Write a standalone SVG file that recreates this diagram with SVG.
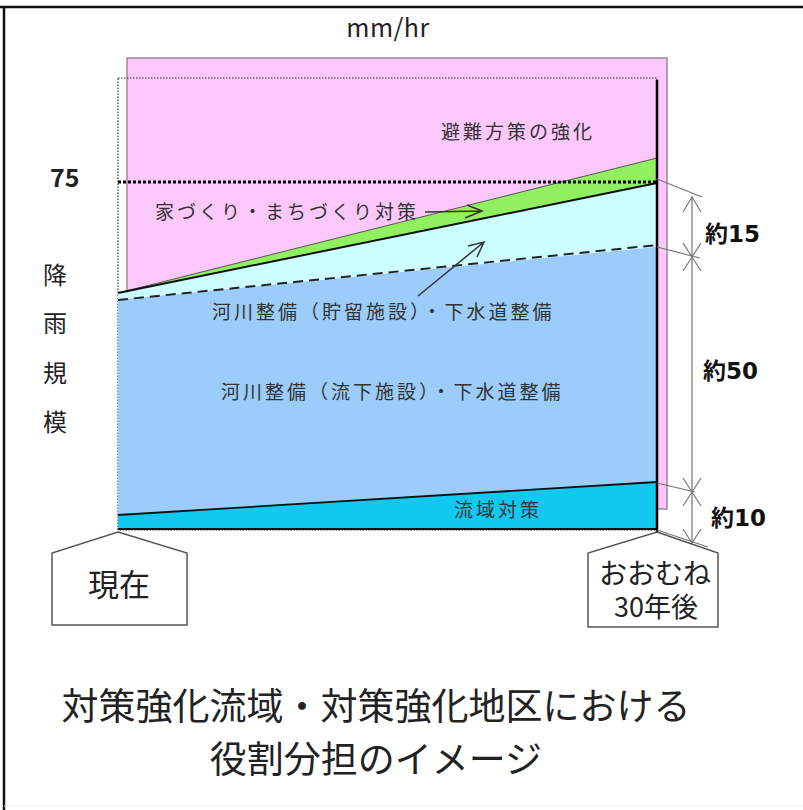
<svg xmlns="http://www.w3.org/2000/svg" width="803" height="810" viewBox="0 0 803 810">
<style>
text{font-family:"Noto Sans CJK JP","Noto Sans",sans-serif;fill:#222}
.lab{font-size:19px;letter-spacing:3px;fill:#333}
.dim{font-size:23px;font-weight:bold;font-family:"DejaVu Sans","Noto Sans CJK JP",sans-serif;fill:#111}
.dl{stroke:#777;stroke-width:1.2;fill:none}
.ah{stroke:#777;stroke-width:1.2;fill:none}
.house{fill:#fff;stroke:#555;stroke-width:1.5}
</style>
<rect x="0" y="0" width="803" height="810" fill="#fff"/>
<g id="frame">
<line x1="0" y1="7" x2="803" y2="7" stroke="#111" stroke-width="2.5"/>
<line x1="4" y1="7" x2="4" y2="810" stroke="#111" stroke-width="2.5"/>
<line x1="4" y1="806" x2="803" y2="806" stroke="#eee" stroke-width="1"/>
</g>
<text x="388" y="37" font-size="25" text-anchor="middle" letter-spacing="0.5" font-family="Open Sans,Noto Sans,sans-serif">mm/hr</text>
<g id="chart">
<rect id="pink" x="127" y="58" width="540" height="451" fill="#fcc8fc" stroke="#9a8a9a" stroke-width="1.5"/>
<rect x="118" y="78" width="539" height="452" fill="none" stroke="#333" stroke-width="1.2" stroke-dasharray="1.5,1.5"/>
<polygon id="green" points="118,293 657,158 657,183" fill="#90f060" stroke="#555" stroke-width="1"/>
<polygon id="lightcyan" points="118,293 657,183 657,247 118,300" fill="#ccffff"/>
<polygon id="blue" points="118,300 657,247 657,482 118,515" fill="#9cccfa"/>
<polygon id="cyan" points="118,515 657,482 657,529 118,529" fill="#10c8f0"/>
<line x1="118" y1="293" x2="657" y2="183" stroke="#111" stroke-width="2"/>
<line x1="118" y1="300" x2="657" y2="245" stroke="#222" stroke-width="2" stroke-dasharray="10,6"/>
<line x1="118" y1="515" x2="657" y2="482" stroke="#111" stroke-width="1.8"/>
<line x1="118" y1="529" x2="657" y2="529" stroke="#111" stroke-width="2"/>
<line x1="118" y1="182" x2="657" y2="182" stroke="#000" stroke-width="3" stroke-dasharray="3,2"/>
<line x1="657" y1="80" x2="657" y2="532" stroke="#000" stroke-width="2.5"/>
<text x="441" y="139" class="lab">避難方策の強化</text>
<text x="155" y="219" class="lab">家づくり・まちづくり対策</text>
<text x="212" y="319" class="lab">河川整備（貯留施設）・下水道整備</text>
<text x="221" y="399" class="lab">河川整備（流下施設）・下水道整備</text>
<text x="454" y="517" class="lab">流域対策</text>
</g>
<g id="connectors">
<path d="M425,212 L482,211 M467,205 L482,211 L465,218" stroke="#333" stroke-width="1.5" fill="none"/>
<path d="M418,296 L484,242 M468,246 L484,242 L477,257" stroke="#333" stroke-width="1.5" fill="none"/>
</g>
<g id="dimensions">
<line class="dl" x1="657" y1="179" x2="702" y2="197"/>
<line class="dl" x1="657" y1="247" x2="700" y2="258"/>
<line class="dl" x1="657" y1="483" x2="695" y2="492"/>
<line class="dl" x1="657" y1="530" x2="708" y2="547"/>
<line class="dl" x1="692" y1="197" x2="692" y2="543"/>
<path class="ah" d="M683,212 L692,197 L701,212"/>
<path class="ah" d="M683,243 L692,257 L701,243"/>
<path class="ah" d="M683,271 L692,257 L701,271"/>
<path class="ah" d="M683,478 L692,492 L701,478"/>
<path class="ah" d="M683,506 L692,492 L701,506"/>
<path class="ah" d="M683,529 L692,543 L701,529"/>
<text class="dim" x="705" y="242">約15</text>
<text class="dim" x="703" y="379">約50</text>
<text class="dim" x="711" y="526">約10</text>
</g>
<text x="50" y="187" font-size="25" font-weight="bold" font-family="DejaVu Sans,sans-serif" fill="#111">75</text>
<g id="yaxis" font-size="24" fill="#333">
<text x="55" y="284" text-anchor="middle">降</text>
<text x="55" y="332" text-anchor="middle">雨</text>
<text x="55" y="382" text-anchor="middle">規</text>
<text x="55" y="431" text-anchor="middle">模</text>
</g>
<g id="now">
<polygon class="house" points="118,532 187,553 187,625 52,625 52,553"/>
<text x="119" y="596" font-size="31" text-anchor="middle" fill="#333">現在</text>
</g>
<g id="future">
<polygon class="house" points="657,532 718,553 718,627 588,627 588,553"/>
<text x="655" y="584" font-size="28" text-anchor="middle" fill="#333">おおむね</text>
<text x="656" y="617" font-size="27" text-anchor="middle" fill="#333">30年後</text>
</g>
<g id="title" font-size="37" fill="#111">
<text x="376" y="720" text-anchor="middle">対策強化流域・対策強化地区における</text>
<text x="376" y="773" text-anchor="middle">役割分担のイメージ</text>
</g>
</svg>
